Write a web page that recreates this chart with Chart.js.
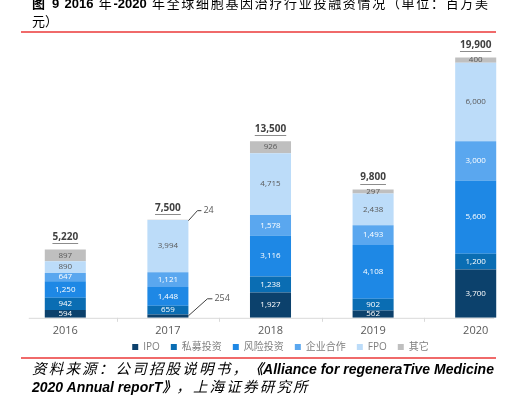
<!DOCTYPE html>
<html>
<head>
<meta charset="utf-8">
<script src="https://cdn.jsdelivr.net/npm/chart.js@4.4.0/dist/chart.umd.min.js"></script>
<style>
html, body { margin: 0; padding: 0; background: #fff; }
body { width: 514px; height: 396px; overflow: hidden; position: relative; font-family: "Liberation Sans", "Noto Sans CJK SC", sans-serif; }
#wrap { position: absolute; left: 0; top: 0; width: 514px; height: 396px; overflow: hidden; }
#wrap canvas { position: absolute; left: 0; top: 0; }
.t { position: absolute; left: 32px; width: 456px; font-size: 13px; line-height: 17px; color: #000; white-space: nowrap; }
.j { text-align: justify; text-align-last: justify; white-space: normal; }
.s { font-style: italic; font-size: 14.5px; line-height: 18px; width: 480px; }
.s b { font-size: 14px; }
.cj { letter-spacing: 2.2px; }
.red { position: absolute; left: 21px; width: 475px; height: 2px; background: #f06a6a; }
</style>
</head>
<body>
<div id="wrap"><canvas id="barChart" width="560" height="396"></canvas></div>
<div class="t j" style="top:-5px"><b>图 9 2016</b> 年<b>-2020</b> 年全球细胞基因治疗行业投融资情况（单位：百万美</div>
<div class="t" style="top:13px">元）</div>
<div class="red" style="top:31px"></div>
<div class="red" style="top:357px"></div>
<div class="t s" style="top:360px"><span class="cj">资料来源：公司招股说明书，</span><b>《Alliance for regeneraTive Medicine</b></div>
<div class="t s" style="top:378px"><b>2020 Annual reporT》</b><span class="cj">，上海证券研究所</span></div>
<script>
var years = ['2016', '2017', '2018', '2019', '2020']
var seriesNames = ['IPO', '私募投资', '风险投资', '企业合作', 'FPO', '其它']
var ipo = [594, 254, 1927, 562, 3700]
var privateEq = [942, 659, 1238, 902, 1200]
var venture = [1250, 1448, 3116, 4108, 5600]
var partner = [647, 1121, 1578, 1493, 3000]
var fpo = [890, 3994, 4715, 2438, 6000]
var other = [897, 24, 926, 297, 400]

var colors = ['#0c416c', '#0a6db3', '#1e88e5', '#5aa7ef', '#bcdcf9', '#bfbfbf']
var labelColors = ['#ffffff', '#ffffff', '#ffffff', '#ffffff', '#595959', '#595959']
var fontFam = '"Open Sans", "Noto Sans CJK SC", sans-serif'

// labels drawn outside the 2017 bar with a leader line: [dataset, index, midDx, midDy, endDx]
var callouts = [[0, 1, 19, -17, 24], [5, 1, 9, -10, 13]]

var allSeries = [ipo, privateEq, venture, partner, fpo, other]
var datasets = allSeries.map(function (d, i) {
    return {
        label: seriesNames[i],
        data: d,
        backgroundColor: colors[i],
        borderWidth: 0,
        barPercentage: 0.4,
        categoryPercentage: 1
    }
})

function fmt(v) { return v.toLocaleString('en-US') }

var labelPlugin = {
    id: 'segLabels',
    afterLayout: function (chart) {
        // nudge the legend up and right to sit like the original
        chart.legend.top -= 12
        chart.legend.bottom -= 12
        chart.legend.left += 10
        chart.legend.right += 10
    },
    beforeDatasetsDraw: function (chart) {
        var ctx = chart.ctx
        var bars = chart.getDatasetMeta(0).data
        var base = chart.scales.y.getPixelForValue(0)
        ctx.save()
        ctx.strokeStyle = '#d9d9d9'
        ctx.lineWidth = 1
        ctx.beginPath()
        ctx.moveTo(bars[0].x - bars[0].width / 2 - 16, base + 0.5)
        ctx.lineTo(bars[bars.length - 1].x + bars[0].width / 2 - 2, base + 0.5)
        for (var k = 0; k < bars.length - 1; k++) {
            var mx = Math.round((bars[k].x + bars[k + 1].x) / 2) + 0.5
            ctx.moveTo(mx, base)
            ctx.lineTo(mx, base + 4)
        }
        ctx.stroke()
        ctx.restore()
    },
    afterDatasetsDraw: function (chart) {
        var ctx = chart.ctx
        ctx.save()
        ctx.textAlign = 'center'
        ctx.textBaseline = 'middle'
        chart.data.datasets.forEach(function (ds, i) {
            var meta = chart.getDatasetMeta(i)
            meta.data.forEach(function (bar, j) {
                var co = callouts.filter(function (c) { return c[0] === i && c[1] === j })[0]
                if (co) {
                    var sx = bar.x + bar.width / 2
                    var sy = i === 0 ? bar.base - 2 : bar.y + 1
                    ctx.strokeStyle = '#404040'
                    ctx.lineWidth = 1
                    ctx.beginPath()
                    ctx.moveTo(sx, sy)
                    ctx.lineTo(sx + co[2], sy + co[3])
                    ctx.lineTo(sx + co[4], sy + co[3])
                    ctx.stroke()
                    ctx.font = '9px ' + fontFam
                    ctx.fillStyle = '#595959'
                    ctx.textAlign = 'left'
                    ctx.fillText(fmt(ds.data[j]), sx + co[4] + 2, sy + co[3])
                    ctx.textAlign = 'center'
                } else {
                    ctx.font = '8px ' + fontFam
                    ctx.fillStyle = labelColors[i]
                    ctx.fillText(fmt(ds.data[j]), bar.x, (bar.y + bar.base) / 2)
                }
            })
        })
        // totals above each bar
        var top = chart.getDatasetMeta(chart.data.datasets.length - 1).data
        years.forEach(function (y, j) {
            var sum = 0
            chart.data.datasets.forEach(function (ds) { sum += ds.data[j] })
            var txt = fmt(sum)
            ctx.font = 'bold 10px ' + fontFam
            ctx.fillStyle = '#404040'
            var w = ctx.measureText(txt).width
            var ty = top[j].y
            ctx.fillText(txt, top[j].x, ty - 12)
            ctx.strokeStyle = '#8c8c8c'
            ctx.beginPath()
            ctx.moveTo(top[j].x - w / 2, Math.round(ty - 6) + 0.5)
            ctx.lineTo(top[j].x + w / 2, Math.round(ty - 6) + 0.5)
            ctx.stroke()
        })
        ctx.restore()
    }
}

var barChartCanvas = document.getElementById('barChart').getContext('2d')
new Chart(barChartCanvas, {
    type: 'bar',
    data: { labels: years, datasets: datasets },
    options: {
        responsive: false,
        animation: false,
        layout: { padding: { top: 43, left: 14, right: 33, bottom: 22 } },
        plugins: {
            tooltip: { enabled: false },
            legend: {
                position: 'bottom',
                labels: {
                    boxWidth: 6,
                    boxHeight: 6,
                    padding: 11,
                    color: '#7f7f7f',
                    font: { size: 10, family: fontFam }
                }
            }
        },
        scales: {
            x: {
                stacked: true,
                grid: { display: false, drawTicks: false },
                border: { display: false },
                ticks: { color: '#595959', padding: 6, font: { size: 11, family: fontFam } }
            },
            y: {
                stacked: true,
                display: false,
                min: 0,
                max: 21000
            }
        }
    },
    plugins: [labelPlugin]
})
</script>
</body>
</html>
